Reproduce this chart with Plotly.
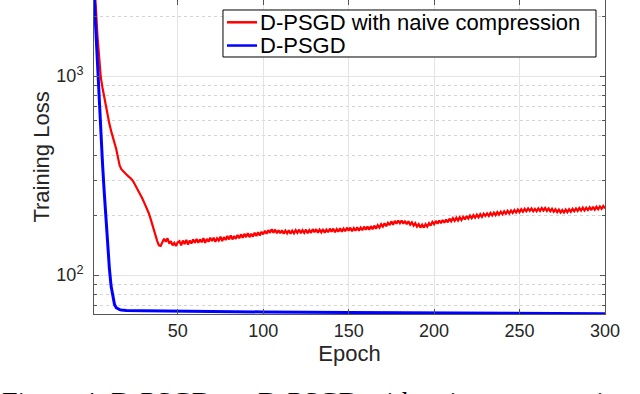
import plotly.graph_objects as go

# ── Data ──────────────────────────────────────────────────────────────────────

RED_NAME = "D-PSGD with naive compression"
BLUE_NAME = "D-PSGD"

red_epoch = list(range(1, 301))
red_loss = [
    2900, 2300, 1600, 1200, 980, 870, 780, 700, 630, 575,
    530, 495, 465, 430, 390, 355, 340, 332, 326, 320,
    314, 309, 303, 295, 285, 275, 266, 256, 245, 235,
    225, 215, 205, 193, 180, 168, 158, 148, 141, 140,
    146, 152, 147, 153, 144, 148, 141, 145, 140, 146,
    148, 141, 149, 143, 150, 142, 149, 144, 151, 145,
    152, 145, 151, 146, 153, 145, 152, 147, 154, 148,
    154, 147, 153, 149, 156, 148, 155, 150, 157, 151,
    158, 151, 157, 152, 159, 153, 160, 154, 161, 155,
    162, 155, 161, 156, 163, 157, 164, 158, 165, 160,
    167, 161, 168, 163, 170, 163, 169, 162, 168, 162,
    168, 161, 167, 162, 168, 161, 167, 162, 168, 163,
    169, 162, 168, 163, 169, 162, 168, 163, 170, 164,
    170, 163, 169, 164, 170, 163, 169, 164, 171, 165,
    171, 164, 170, 165, 172, 165, 171, 166, 173, 167,
    173, 166, 172, 167, 174, 167, 173, 168, 175, 169,
    175, 169, 176, 170, 177, 171, 178, 173, 180, 175,
    182, 176, 183, 178, 186, 179, 187, 181, 188, 182,
    188, 181, 187, 180, 186, 179, 184, 177, 182, 175,
    180, 173, 179, 173, 180, 175, 182, 177, 185, 180,
    187, 181, 188, 182, 189, 183, 190, 184, 192, 186,
    193, 187, 194, 188, 195, 189, 196, 190, 198, 192,
    199, 193, 200, 194, 201, 195, 202, 196, 203, 198,
    204, 198, 205, 199, 206, 200, 207, 201, 208, 202,
    209, 203, 210, 204, 211, 205, 212, 206, 213, 207,
    214, 208, 215, 209, 216, 210, 216, 209, 215, 209,
    216, 210, 217, 211, 217, 210, 216, 209, 215, 208,
    214, 207, 213, 206, 212, 206, 213, 207, 214, 208,
    215, 209, 216, 210, 217, 211, 218, 211, 218, 212,
    219, 212, 220, 213, 220, 214, 221, 215, 222, 216,
]

blue_epoch = [1, 2, 3, 4, 5, 6, 7, 8, 9, 10, 11, 12, 13, 14, 15, 16, 17,
              20, 30, 50, 100, 150, 200, 250, 300]
blue_loss = [2600, 1700, 1150, 760, 520, 360, 260, 190, 140, 108, 88, 77, 71,
             68.5, 67.5, 67, 66.7, 66.4, 66.1, 65.7, 65.2, 64.8, 64.4, 64.1, 63.8]

x_ticks = [50, 100, 150, 200, 250, 300]
y_ticks = [100, 1000]
y_ticktext = ["10<sup>2</sup>", "10<sup>3</sup>"]

CAPTION = "Figure 4: D-PSGD vs. D-PSGD with naive compression"

# ── Style ─────────────────────────────────────────────────────────────────────

FONT = "Liberation Sans, Arial, Helvetica, sans-serif"
AXIS_COLOR = "#555555"
GRID = "#e3e3e3"
RED = "#ff0000"
BLUE = "#0000ff"

fig = go.Figure()
fig.add_trace(go.Scatter(
    x=red_epoch, y=red_loss, mode="lines", name=RED_NAME,
    line=dict(color=RED, width=2.2),
))
fig.add_trace(go.Scatter(
    x=blue_epoch, y=blue_loss, mode="lines", name=BLUE_NAME,
    line=dict(color=BLUE, width=3),
))

# MATLAB-style legend box, drawn by hand so the rows sit tight
fig.add_shape(type="rect", xref="paper", yref="paper",
              x0=0.2524, x1=0.9824, y0=0.8185, y1=0.9682,
              line=dict(color="#000000", width=1), fillcolor="white", layer="above")
for name, color, ly in [(RED_NAME, RED, 0.9290), (BLUE_NAME, BLUE, 0.8550)]:
    fig.add_shape(type="line", xref="paper", yref="paper",
                  x0=0.2603, x1=0.3190, y0=ly, y1=ly,
                  line=dict(color=color, width=2.5), layer="above")
    fig.add_annotation(text=name, xref="paper", yref="paper",
                       x=0.3210, y=ly, xanchor="left", yanchor="middle",
                       showarrow=False,
                       font=dict(family=FONT, size=22, color="#000000"))

# figure caption, cropped by the bottom edge as in the source
fig.add_annotation(
    text=CAPTION,
    xref="paper", yref="paper", x=-0.184, y=-0.2235,
    xanchor="left", yanchor="top", showarrow=False,
    font=dict(family="Liberation Serif, serif", size=28, color="#000000"),
)

fig.update_layout(
    width=640, height=394,
    paper_bgcolor="white", plot_bgcolor="white",
    margin=dict(l=94, r=35, t=0, b=80),
    font=dict(family=FONT, color="#262626", size=18),
    showlegend=False,
    xaxis=dict(
        range=[1, 300], automargin=False,
        tickvals=x_ticks,
        ticks="inside", ticklen=5, tickcolor=AXIS_COLOR,
        showline=True, linecolor=AXIS_COLOR, linewidth=1, mirror="ticks",
        showgrid=True, gridcolor=GRID, gridwidth=1, zeroline=False,
        title=dict(text="Epoch", font=dict(size=22), standoff=2),
        tickfont=dict(size=18),
    ),
    yaxis=dict(
        type="log", automargin=False,
        range=[1.804, 3.382],
        tickvals=y_ticks, ticktext=y_ticktext,
        ticks="inside", ticklen=5, tickcolor=AXIS_COLOR,
        ticklabelstandoff=6,
        showline=True, linecolor=AXIS_COLOR, linewidth=1, mirror="ticks",
        showgrid=True, gridcolor=GRID, gridwidth=1, zeroline=False,
        minor=dict(
            dtick="D1", ticks="inside", ticklen=3, tickcolor=AXIS_COLOR,
            showgrid=True, gridcolor="#d4d4d4", griddash="dot", gridwidth=1,
        ),
        title=dict(text="Training Loss", font=dict(size=22), standoff=0),
        tickfont=dict(size=18),
    ),
)

fig.write_html("out.html", config={"displayModeBar": False},
               post_script="document.body.style.margin='0';")
